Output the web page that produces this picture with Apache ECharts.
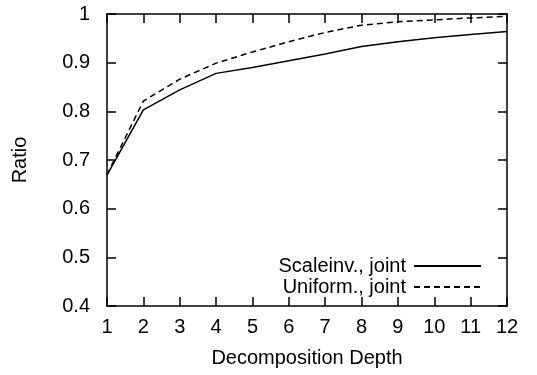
<!DOCTYPE html>
<html><head><meta charset="utf-8">
<script src="https://cdn.jsdelivr.net/npm/echarts@6/dist/echarts.min.js"></script>
<style>html,body{margin:0;padding:0;background:#fff}#c{width:537px;height:375px}</style>
</head><body><div id="c"></div>
<script>
var depth = [1,2,3,4,5,6,7,8,9,10,11,12];
var scaleinvJoint = [0.669,0.803,0.844,0.878,0.890,0.904,0.918,0.933,0.943,0.951,0.958,0.964];
var uniformJoint  = [0.670,0.821,0.866,0.899,0.922,0.943,0.962,0.977,0.984,0.988,0.992,0.995];
var yTicks = [0.4,0.5,0.6,0.7,0.8,0.9,1];
var seriesNames = ['Scaleinv., joint','Uniform., joint'];

var F = 'Liberation Sans, Arial, Helvetica, sans-serif';
var FS = 20;
var chart = echarts.init(document.getElementById('c'));
function pairs(v){return depth.map(function(d,i){return [d,v[i]];});}
var axLine = {show:true, lineStyle:{color:'#000', width:1.5}};
var tick = {show:true, inside:true, length:9, lineStyle:{color:'#000', width:1.5}};
chart.setOption({
  animation:false,
  backgroundColor:'#fff',
  grid:{left:107, right:30, top:14, bottom:69, containLabel:false},
  xAxis:[{
    type:'value', min:1, max:12, interval:1, position:'bottom',
    name:'Decomposition Depth', nameLocation:'middle', nameGap:42,
    nameTextStyle:{fontFamily:F, fontSize:FS, color:'#000'},
    axisLine:axLine, axisTick:tick, splitLine:{show:false},
    axisLabel:{fontFamily:F, fontSize:FS, color:'#000', margin:11}
  },{
    type:'value', min:1, max:12, interval:1, position:'top',
    axisLine:axLine, axisTick:tick, splitLine:{show:false}, axisLabel:{show:false}
  }],
  yAxis:[{
    type:'value', min:0.4, max:1, interval:0.1, position:'left',
    name:'Ratio', nameLocation:'middle', nameGap:77, nameRotate:90,
    nameTextStyle:{fontFamily:F, fontSize:FS, color:'#000'},
    axisLine:axLine, axisTick:tick, splitLine:{show:false},
    axisLabel:{fontFamily:F, fontSize:FS, color:'#000', margin:17,
      formatter:function(v){var r=Math.round(v*10)/10; return yTicks.indexOf(r)>=0?String(r):'';}}
  },{
    type:'value', min:0.4, max:1, interval:0.1, position:'right',
    axisLine:axLine, axisTick:tick, splitLine:{show:false}, axisLabel:{show:false}
  }],
  legend:{
    orient:'vertical', right:50, top:251, align:'right',
    itemWidth:67, itemHeight:14, itemGap:1,
    itemStyle:{opacity:0},
    textStyle:{fontFamily:F, fontSize:FS, color:'#000', padding:[0,3,0,0]},
    data:seriesNames
  },
  series:[{
    name:seriesNames[0], type:'line', data:pairs(scaleinvJoint),
    showSymbol:false, symbol:'none',
    lineStyle:{color:'#000', width:1.5, type:'solid'}, itemStyle:{color:'#000'}
  },{
    name:seriesNames[1], type:'line', data:pairs(uniformJoint),
    showSymbol:false, symbol:'none',
    lineStyle:{color:'#000', width:1.5, type:[6,4]}, itemStyle:{color:'#000'}
  }]
});
</script></body></html>
